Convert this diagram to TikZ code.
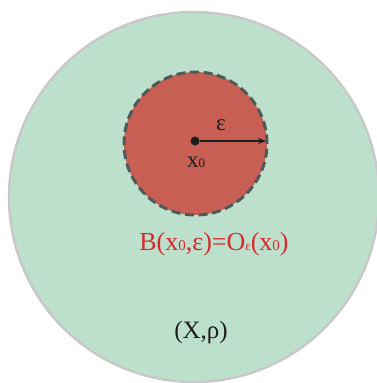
\documentclass[tikz,border=0pt]{standalone}
\usepackage{fontspec}
\setmainfont{Liberation Serif}
\usetikzlibrary{arrows.meta}
\definecolor{spacefill}{HTML}{BDE0CD}
\definecolor{spaceedge}{HTML}{C8C8C8}
\definecolor{ballfill}{HTML}{C75F55}
\definecolor{balledge}{HTML}{4E5A55}
\definecolor{labelred}{HTML}{D42A2E}
\definecolor{ink}{HTML}{1E1E1E}
\newcommand{\smallsub}[2][13]{\raisebox{-0.6pt}{\fontsize{#1}{#1}\selectfont #2}}
\tikzset{
  spacedisk/.style={circle, inner sep=0pt, fill=spacefill, draw=spaceedge, line width=2.4pt, minimum size=370pt},
  balldisk/.style={circle, inner sep=0pt, fill=ballfill, draw=balledge, line width=3pt, dash pattern=on 9pt off 4.6pt, minimum size=143pt},
  centerdot/.style={circle, inner sep=0pt, fill=ink, minimum size=9pt},
  radiusarrow/.style={draw=ink, line width=1.1pt, -{Stealth[length=8pt,width=6pt]}},
  lbl/.style={inner sep=0pt, font=\fontsize{23}{23}\selectfont, text=ink},
}
\begin{document}
\begin{tikzpicture}[x=1pt,y=-1pt]
\useasboundingbox (0,0) rectangle (377,383);
\clip (0,0) rectangle (377,383);
\node[spacedisk] (space) at (194,197) {};
\node[balldisk] (ball) at (195.5,143.5) {};
\node[centerdot] (x0) at (195,141) {};
\coordinate (rim) at (266,141);
\draw[radiusarrow] (x0) -- (rim);
\node[lbl, anchor=base] (eps) at (221,130) {ε};
\node[lbl, anchor=base] (x0lbl) at (196,167) {x\smallsub{0}};
\node[lbl, anchor=base, text=labelred, font=\fontsize{26}{26}\selectfont] (ballname) at (214,250) {B(x\smallsub[15]{0},ε)=O\smallsub[13]{ε}(x\smallsub[15]{0})};
\node[lbl, anchor=base, font=\fontsize{25}{25}\selectfont] (spacename) at (201,338) {(X,ρ)};
\end{tikzpicture}
\end{document}
